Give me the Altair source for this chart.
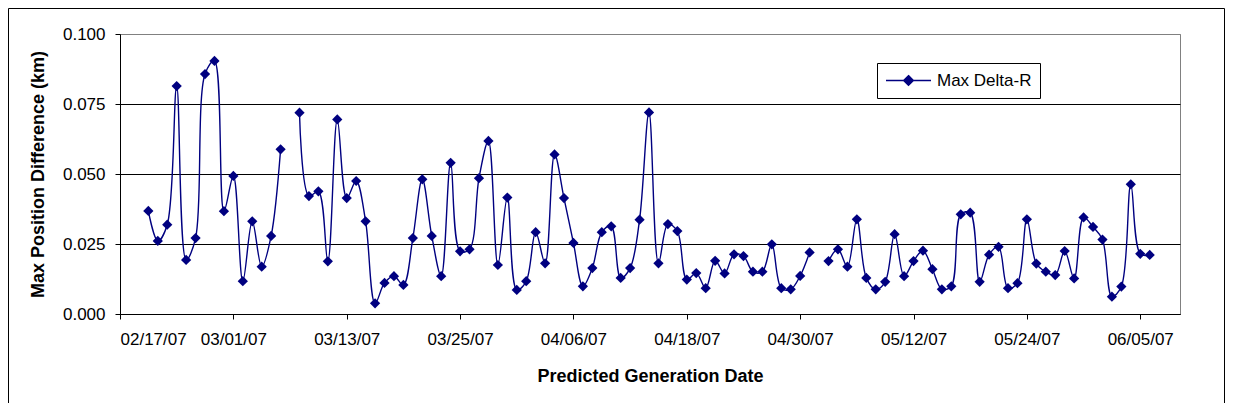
import altair as alt
import pandas as pd

# Daily sample dates (02/20/07 .. 06/06/07); None = no value that day
start_date = "2007-02-20"
end_date = "2007-06-06"
max_delta_r = [
    0.0368, 0.0261, 0.0319, 0.0814, 0.0193, 0.0271, 0.0857, 0.0904, 0.0367, 0.0493,
    0.0117, 0.0331, 0.0169, 0.0279, 0.0588,
    None,
    0.0719, 0.0421, 0.0438, 0.0188, 0.0695, 0.0414, 0.0475, 0.0331, 0.0038, 0.0111,
    0.0135, 0.0104,
    0.0271, 0.0481, 0.0279, 0.0135, 0.0540, 0.0224, 0.0231, 0.0485, 0.0618, 0.0175,
    0.0416, 0.0086, 0.0117, 0.0292, 0.0181, 0.0570, 0.0414, 0.0254, 0.0099, 0.0164,
    0.0292, 0.0313, 0.0129, 0.0164, 0.0337, 0.0720, 0.0181, 0.0321, 0.0296, 0.0123,
    0.0146,
    0.0092, 0.0190, 0.0145, 0.0213, 0.0207, 0.0151, 0.0151, 0.0249, 0.0092, 0.0088,
    0.0136, 0.0220,
    None,
    0.0189, 0.0231, 0.0169, 0.0338, 0.0129, 0.0088, 0.0115, 0.0285, 0.0135, 0.0189,
    0.0226, 0.0160, 0.0088, 0.0099, 0.0356, 0.0362, 0.0115, 0.0212, 0.0240, 0.0092,
    0.0110, 0.0338, 0.0180, 0.0151, 0.0139, 0.0225, 0.0127, 0.0345, 0.0311, 0.0266,
    0.0062, 0.0098, 0.0463, 0.0215, 0.0211,
]
series_name = "Max Delta-R"
x_tick_dates = ["2007-02-17", "2007-03-01", "2007-03-13", "2007-03-25", "2007-04-06",
                "2007-04-18", "2007-04-30", "2007-05-12", "2007-05-24", "2007-06-05"]
y_ticks = [0.0, 0.025, 0.05, 0.075, 0.1]
x_domain = ["2007-02-17T00:00:00", "2007-06-09T05:00:00"]

dates = pd.date_range(start_date, end_date, freq="D")
seg = []
s = 0
for v in max_delta_r:
    if v is None:
        s += 1
    seg.append(s)
df = pd.DataFrame({
    "date": [d.strftime("%Y-%m-%dT00:00:00") for d in dates],
    "value": max_delta_r,
    "seg": seg,
    "series": series_name,
})
df_valid = df[df["value"].notna()]

NAVY = "#000080"
FONT = "Liberation Sans"

x_enc = alt.X(
    "date:T",
    scale=alt.Scale(domain=x_domain),
    axis=alt.Axis(
        values=[alt.DateTime(year=int(d[:4]), month=int(d[5:7]), date=int(d[8:])) for d in x_tick_dates],
        format="%m/%d/%y", title="Predicted Generation Date",
        grid=False, tickSize=5, labelPadding=12, titleY=62, titleBaseline="middle",
        domainColor="black", tickColor="black",
    ),
)
y_enc = alt.Y(
    "value:Q",
    scale=alt.Scale(domain=[0, 0.1], nice=False),
    axis=alt.Axis(
        values=y_ticks, format=".3f", title="Max Position Difference (km)",
        grid=True,
        gridColor={"condition": {"test": "datum.value >= 0.1", "value": "#808080"}, "value": "black"},
        tickSize=5, labelPadding=10, titleX=-82, titleY=140, titleAngle=270,
        titleBaseline="middle", titleAlign="center",
        domainColor="black", tickColor="black",
    ),
)

legend_symbol = "M-1,0H1M0,-0.22L0.22,0L0,0.22L-0.22,0Z"

line = alt.Chart(df_valid).mark_line(
    interpolate="catmull-rom", strokeWidth=1.4
).encode(
    x=x_enc, y=y_enc, detail="seg:N",
    color=alt.Color(
        "series:N", scale=alt.Scale(range=[NAVY]),
        legend=alt.Legend(
            title=None, orient="none", legendX=757, legendY=29,
            symbolType=legend_symbol, symbolSize=2025, symbolStrokeWidth=1.3,
            symbolFillColor=NAVY, symbolStrokeColor=NAVY,
            labelFontSize=17, labelFont=FONT, labelColor="black",
            strokeColor="black", fillColor="white", padding=8, labelOffset=5,
            clipHeight=19,
        ),
    ),
)
points = alt.Chart(df_valid).mark_point(
    shape="diamond", filled=True, size=105, color=NAVY, opacity=1
).encode(x="date:T", y="value:Q")

frame = alt.Chart(pd.DataFrame({"k": [0]})).mark_rect(
    fill=None, stroke="black", strokeWidth=1
).encode(x=alt.value(-111.5), x2=alt.value(1104.5), y=alt.value(-25.5), y2=alt.value(400))

chart = alt.layer(frame, line, points).properties(
    width=1060, height=280,
    autosize=alt.AutoSizeParams(type="none"),
    padding={"left": 112, "top": 26, "right": 45, "bottom": 89},
).configure_view(
    stroke="#808080", strokeWidth=1
).configure_axis(
    labelFont=FONT, titleFont=FONT, labelFontSize=17, titleFontSize=18,
    labelColor="black", titleColor="black", titleFontWeight="bold",
)

chart.save("out.html", embed_options={"renderer": "svg", "actions": False})
